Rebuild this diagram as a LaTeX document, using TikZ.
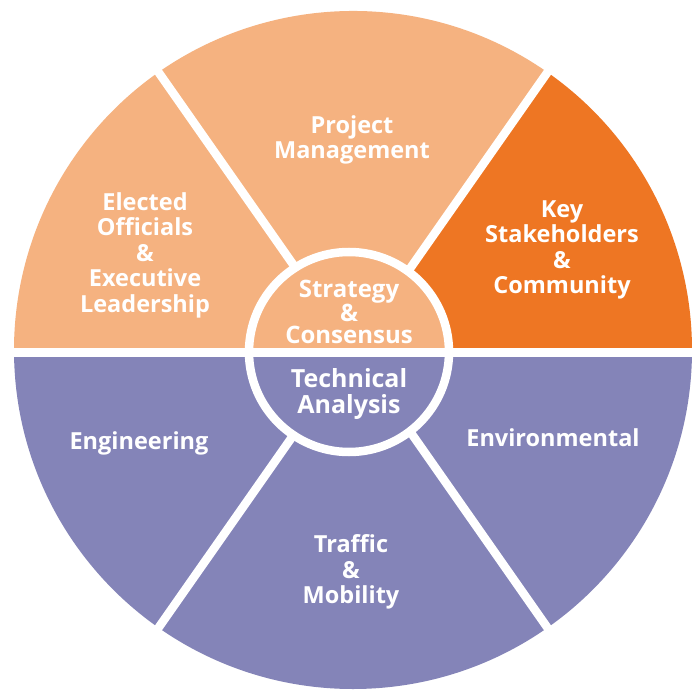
\documentclass[tikz,border=0pt]{standalone}
\usepackage{fontspec}
\setmainfont{Open Sans}
\definecolor{lightor}{HTML}{F5B280}
\definecolor{darkor}{HTML}{EE7623}
\definecolor{purp}{HTML}{8484B8}
\begin{document}
\begin{tikzpicture}[x=1pt,y=1pt,
  lbl/.style={text=white, font=\fontsize{23.5}{25.5}\selectfont\bfseries, align=center, inner sep=0pt},
  clbl/.style={lbl, font=\fontsize{24}{21.8}\selectfont\bfseries},
  divider/.style={white, line width=8.5pt},
  ring/.style={white, line width=8.5pt}]
\fill[white] (0,-690) rectangle (696,0);
\useasboundingbox (0,-690) rectangle (696,0);
\coordinate (O) at (353,-350);
\coordinate (I) at (349,-352);
% outer sectors
\fill[lightor] (O) -- ++(55:339) arc[start angle=55, end angle=180, radius=339] -- cycle;
\fill[darkor] (O) -- ++(0:339) arc[start angle=0, end angle=55, radius=339] -- cycle;
\fill[purp] (O) -- ++(180:339) arc[start angle=180, end angle=360, radius=339] -- cycle;
% dividers
\foreach \a in {55,125,235,305} \draw[divider] (O) -- ++(\a:345);
\draw[divider] (0,-352.5) -- (696,-352.5);
% inner circle
\fill[lightor] (I) ++(100,0) arc[start angle=0, end angle=180, radius=100] -- cycle;
\fill[purp] (I) ++(-100,0) arc[start angle=180, end angle=360, radius=100] -- cycle;
\draw[divider] (249,-352.5) -- (449,-352.5);
\draw[ring] (I) circle[radius=100];
% labels
\node[lbl] (pm) at (352,-140) {Project\\Management};
\node[lbl] (eo) at (145,-255) {Elected\\Officials\\\&\\Executive\\Leadership};
\node[lbl] (ks) at (562,-250) {Key\\Stakeholders\\\&\\Community};
\node[clbl] (sc) at (349,-312) {Strategy\\\&\\Consensus};
\node[clbl, font=\fontsize{25}{25.5}\selectfont\bfseries] (ta) at (349,-394) {Technical\\Analysis};
\node[lbl] (en) at (139,-443) {Engineering};
\node[lbl] (ev) at (553,-438) {Environmental};
\node[lbl] (tm) at (351,-572) {Traffic\\\&\\Mobility};
\end{tikzpicture}
\end{document}
